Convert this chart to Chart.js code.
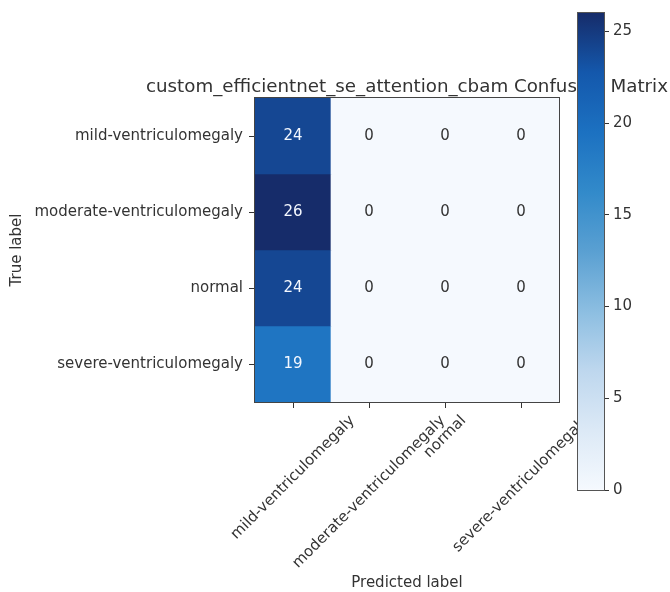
<!DOCTYPE html>
<html>
<head>
<meta charset="utf-8">
<script src="https://cdn.jsdelivr.net/npm/chart.js@4.4.1/dist/chart.umd.min.js"></script>
<style>
  html, body { margin: 0; padding: 0; background: #fff; }
  #wrap { position: relative; width: 670px; height: 592px; }
  #matrix { position: absolute; left: 0; top: 0; }
  #cbar { position: absolute; left: 560px; top: 0; }
</style>
</head>
<body>
<div id="wrap">
  <canvas id="matrix" width="670" height="592"></canvas>
  <canvas id="cbar" width="110" height="510"></canvas>
</div>
<script>
// Class names (rows = true label, columns = predicted label)
const trueLabels = ['mild-ventriculomegaly', 'moderate-ventriculomegaly', 'normal', 'severe-ventriculomegaly'];
const predictedLabels = ['mild-ventriculomegaly', 'moderate-ventriculomegaly', 'normal', 'severe-ventriculomegaly'];

// Confusion-matrix rows: counts per predicted class
const mildRow     = [24, 0, 0, 0];
const moderateRow = [26, 0, 0, 0];
const normalRow   = [24, 0, 0, 0];
const severeRow   = [19, 0, 0, 0];

const colorbarTicks = [0, 5, 10, 15, 20, 25];
const chartTitle = 'custom_efficientnet_se_attention_cbam Confusion Matrix';

const rows = [mildRow, moderateRow, normalRow, severeRow];
const vmin = 0;
const vmax = Math.max(...rows.flat());

const FONT = 'DejaVu Sans';
const INK = '#333333';

// Sequential blue colour map, light (low) to dark (high)
const bluesStops = [
  [245, 249, 254], [220, 233, 246], [190, 215, 238], [140, 190, 225], [90, 160, 210],
  [50, 138, 202], [28, 113, 193], [20, 88, 172], [22, 44, 106]
];
const rgb = c => `rgb(${c[0]},${c[1]},${c[2]})`;
function blues(t) {
  t = Math.min(1, Math.max(0, t));
  const pos = t * (bluesStops.length - 1);
  const i = Math.min(bluesStops.length - 2, Math.floor(pos));
  const f = pos - i;
  const a = bluesStops[i], b = bluesStops[i + 1];
  return rgb(a.map((v, k) => Math.round(v + (b[k] - v) * f)));
}
const norm = v => (v - vmin) / (vmax - vmin);

// One floating-bar dataset per true-label row; each bar fills one cell
const datasets = rows.map((row, r) => ({
  label: trueLabels[r],
  data: row.map(() => [r - 0.5, r + 0.5]),
  backgroundColor: row.map(v => blues(norm(v))),
  borderWidth: 0,
  grouped: false,
  barPercentage: 1,
  categoryPercentage: 1
}));

const matrixDecor = {
  id: 'matrixDecor',
  afterDatasetsDraw(chart) {
    const { ctx, chartArea: a, scales: { x, y } } = chart;
    ctx.save();
    // cell annotations
    ctx.font = `15px "${FONT}"`;
    ctx.textAlign = 'center';
    ctx.textBaseline = 'middle';
    const thresh = vmax / 2;
    rows.forEach((row, r) => {
      row.forEach((v, c) => {
        ctx.fillStyle = v > thresh ? '#f4f8ff' : INK;
        ctx.fillText(String(v), x.getPixelForValue(c), y.getPixelForValue(r));
      });
    });
    // axes frame
    ctx.strokeStyle = '#444';
    ctx.lineWidth = 1;
    ctx.strokeRect(a.left - 0.5, a.top - 0.5, a.right - a.left + 1, a.bottom - a.top + 1);
    ctx.restore();
  },
  afterDraw(chart) {
    const { ctx, chartArea: a, scales: { x } } = chart;
    ctx.save();
    // title, centred over the plot
    ctx.fillStyle = INK;
    ctx.font = `18.25px "${FONT}"`;
    ctx.textAlign = 'center';
    ctx.textBaseline = 'alphabetic';
    ctx.fillText(chartTitle, (a.left + a.right) / 2, 92);
    // rotated predicted-label ticks, centred under each tick mark
    ctx.font = `15px "${FONT}"`;
    ctx.textBaseline = 'middle';
    const s = Math.SQRT1_2;
    const topY = a.bottom + 11;
    predictedLabels.forEach((lab, i) => {
      const w = ctx.measureText(lab).width;
      const h = (w + 15) * s;
      ctx.save();
      ctx.translate(x.getPixelForValue(i), topY + h / 2);
      ctx.rotate(-Math.PI / 4);
      ctx.fillText(lab, 0, 0);
      ctx.restore();
    });
    ctx.restore();
  }
};

new Chart(document.getElementById('matrix'), {
  type: 'bar',
  data: { labels: predictedLabels, datasets },
  options: {
    responsive: false,
    animation: false,
    devicePixelRatio: 1,
    layout: { padding: { left: 0, right: 111, top: 98, bottom: 0 } },
    plugins: { legend: { display: false }, tooltip: { enabled: false }, title: { display: false } },
    scales: {
      x: {
        type: 'category',
        offset: true,
        afterFit: s => { s.height = 190; },
        ticks: { display: false },
        grid: { offset: false, drawOnChartArea: false, drawTicks: true, tickLength: 6, color: INK },
        border: { display: false },
        title: { display: true, text: 'Predicted label', color: INK, font: { family: FONT, size: 15 }, padding: { top: 0, bottom: 0 } }
      },
      y: {
        type: 'linear',
        reverse: true,
        min: -0.5,
        max: 3.5,
        afterBuildTicks: s => { s.ticks = trueLabels.map((_, i) => ({ value: i })); },
        afterFit: s => { s.width = 255; },
        ticks: { callback: v => trueLabels[v], color: INK, font: { family: FONT, size: 15 }, padding: 6, autoSkip: false },
        grid: { drawOnChartArea: false, drawTicks: true, tickLength: 6, color: INK },
        border: { display: false },
        title: { display: true, text: 'True label', color: INK, font: { family: FONT, size: 15 }, padding: { top: 8, bottom: 0 } }
      }
    }
  },
  plugins: [matrixDecor]
});

// Colour bar: one floating bar spanning the value range, shaded with the map
const cbarFrame = {
  id: 'cbarFrame',
  afterDatasetsDraw(chart) {
    const { ctx, chartArea: a } = chart;
    ctx.save();
    ctx.strokeStyle = '#555';
    ctx.lineWidth = 1;
    ctx.strokeRect(a.left - 0.5, a.top - 0.5, a.right - a.left + 1, a.bottom - a.top + 1);
    ctx.restore();
  }
};

new Chart(document.getElementById('cbar'), {
  type: 'bar',
  data: {
    labels: [''],
    datasets: [{
      data: [[vmin, vmax]],
      backgroundColor: (context) => {
        const { ctx, chartArea } = context.chart;
        if (!chartArea) return rgb(bluesStops[4]);
        const g = ctx.createLinearGradient(0, chartArea.bottom, 0, chartArea.top);
        bluesStops.forEach((c, i) => g.addColorStop(i / (bluesStops.length - 1), rgb(c)));
        return g;
      },
      borderWidth: 0,
      barPercentage: 1,
      categoryPercentage: 1
    }]
  },
  options: {
    responsive: false,
    animation: false,
    devicePixelRatio: 1,
    layout: { padding: { left: 18, right: 0, top: 12, bottom: 20 } },
    plugins: { legend: { display: false }, tooltip: { enabled: false } },
    scales: {
      x: { display: false },
      y: {
        position: 'right',
        min: vmin,
        max: vmax,
        afterBuildTicks: s => { s.ticks = colorbarTicks.map(v => ({ value: v })); },
        afterFit: s => { s.width = 66; },
        ticks: { color: INK, font: { family: FONT, size: 15 }, padding: 4 },
        grid: { drawOnChartArea: false, drawTicks: true, tickLength: 5, color: INK },
        border: { display: false }
      }
    }
  },
  plugins: [cbarFrame]
});
</script>
</body>
</html>
